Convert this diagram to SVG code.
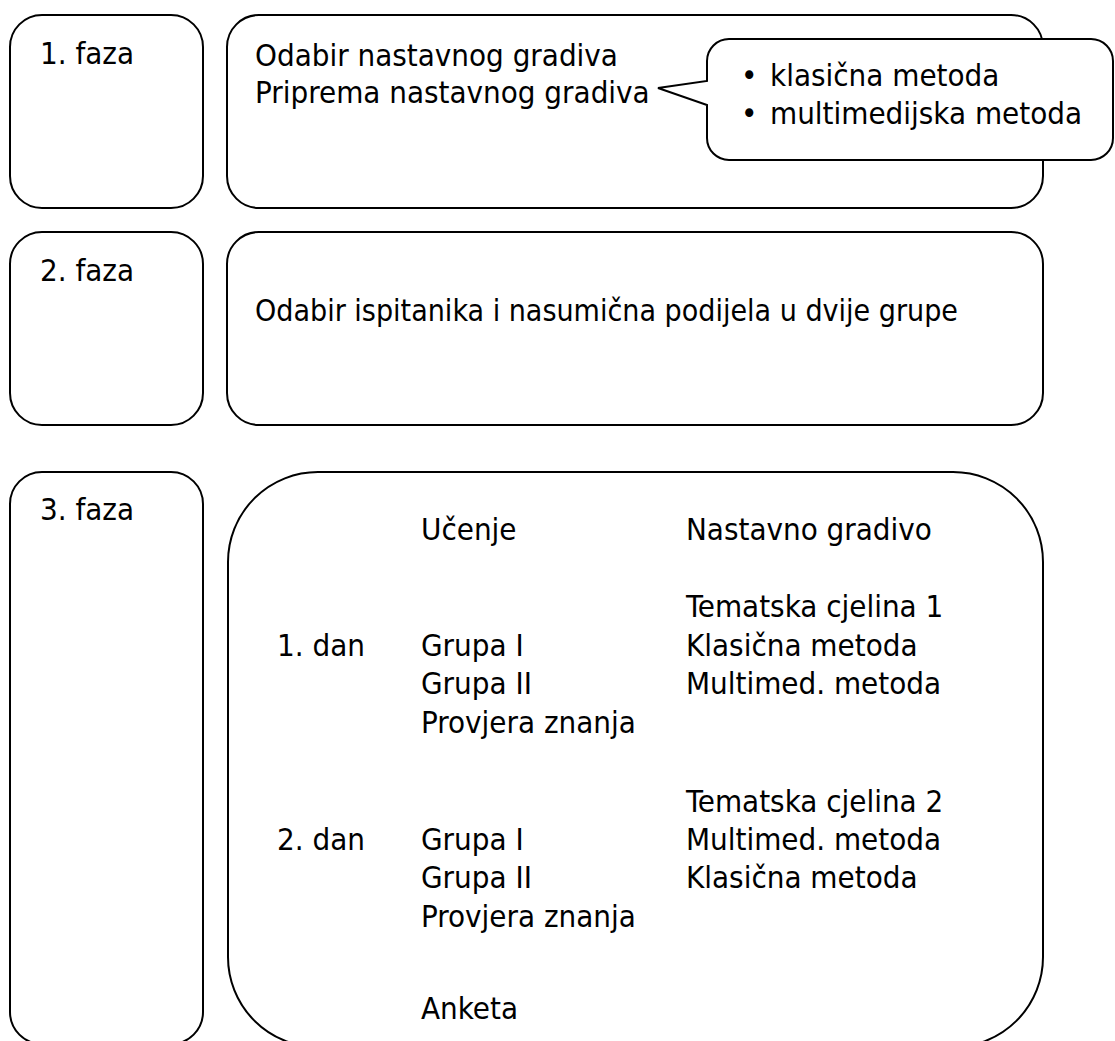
<svg xmlns="http://www.w3.org/2000/svg" width="1115" height="1041" viewBox="0 0 1115 1041">
<style>
.box{fill:#fff;stroke:#000;stroke-width:2}
.t{font-family:'DejaVu Sans Condensed','DejaVu Sans',sans-serif;font-stretch:condensed;font-size:31px;fill:#000}
</style>
<rect width="1115" height="1041" fill="#fff"/>
<g id="faza1"><rect class="box" x="10" y="15" width="193" height="193" rx="32"/><text class="t" x="40" y="64">1. faza</text></g>
<g id="faza1-content"><rect class="box" x="227" y="15" width="816" height="193" rx="32"/>
<text class="t" x="255" y="66">Odabir nastavnog gradiva</text>
<text class="t" x="255" y="103">Priprema nastavnog gradiva</text></g>
<g id="callout"><path class="box" d="M729,39 H1091 A22,22 0 0 1 1113,61 V138 A22,22 0 0 1 1091,160 H729 A22,22 0 0 1 707,138 V105 L658,88 L707,81 V61 A22,22 0 0 1 729,39 Z"/>
<text class="t" x="741" y="86">•</text><text class="t" x="770" y="86">klasična metoda</text>
<text class="t" x="741" y="124">•</text><text class="t" x="770" y="124">multimedijska metoda</text></g>
<g id="faza2"><rect class="box" x="10" y="232" width="193" height="193" rx="32"/><text class="t" x="40" y="281">2. faza</text></g>
<g id="faza2-content"><rect class="box" x="227" y="232" width="816" height="193" rx="32"/>
<text class="t" x="255" y="321" textLength="703" lengthAdjust="spacingAndGlyphs">Odabir ispitanika i nasumična podijela u dvije grupe</text></g>
<g id="faza3"><rect class="box" x="10" y="472" width="193" height="572" rx="32"/><text class="t" x="40" y="520">3. faza</text></g>
<g id="faza3-content"><rect class="box" x="228" y="472" width="815" height="575" rx="90"/>
<text class="t" x="421" y="540">Učenje</text>
<text class="t" x="686" y="540">Nastavno gradivo</text>
<text class="t" x="686" y="617">Tematska cjelina 1</text>
<text class="t" x="277" y="656">1. dan</text>
<text class="t" x="421" y="656">Grupa I</text>
<text class="t" x="686" y="656">Klasična metoda</text>
<text class="t" x="421" y="694">Grupa II</text>
<text class="t" x="686" y="694">Multimed. metoda</text>
<text class="t" x="421" y="733">Provjera znanja</text>
<text class="t" x="686" y="812">Tematska cjelina 2</text>
<text class="t" x="277" y="850">2. dan</text>
<text class="t" x="421" y="850">Grupa I</text>
<text class="t" x="686" y="850">Multimed. metoda</text>
<text class="t" x="421" y="888">Grupa II</text>
<text class="t" x="686" y="888">Klasična metoda</text>
<text class="t" x="421" y="927">Provjera znanja</text>
<text class="t" x="421" y="1019">Anketa</text></g>
<g id="connectors"></g>
</svg>
